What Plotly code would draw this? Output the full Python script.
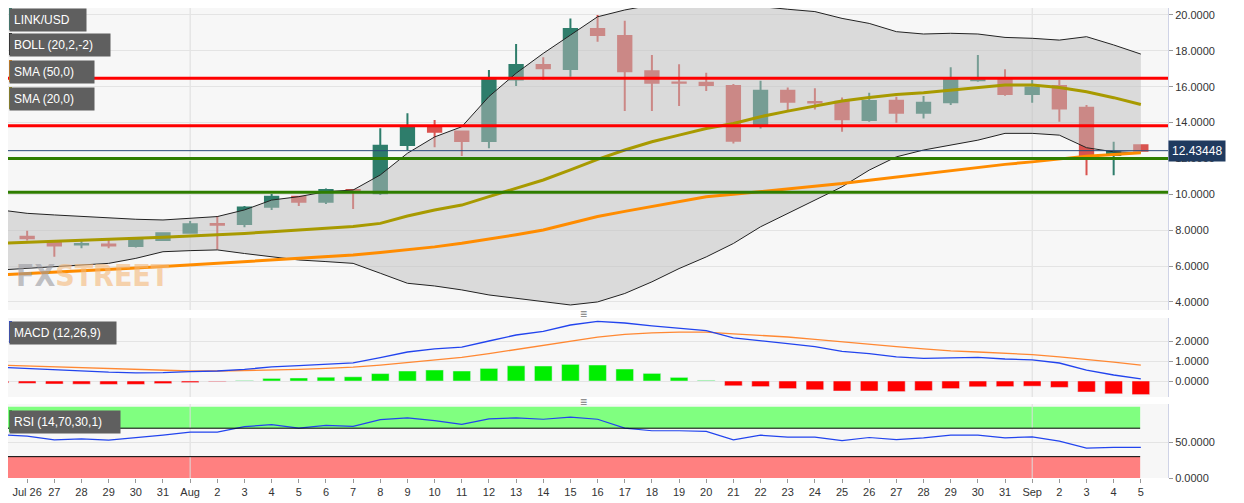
import plotly.graph_objects as go
import pandas as pd

dates = pd.date_range("2019-07-25", "2019-09-05", freq="D")
open_ = [7.45,7.64,7.32,7.20,7.20,7.12,7.45,7.86,8.35,8.35,9.31,9.87,9.59,10.24,10.06,12.75,13.77,13.50,12.97,16.41,17.21,16.99,19.22,
         18.83,16.87,16.24,16.22,16.04,13.92,15.78,15.15,15.16,14.14,15.22,14.55,15.13,16.36,16.37,15.59,16.04,14.83,12.19,12.74]
high = [7.78,7.97,7.35,7.40,7.45,7.50,7.88,8.51,8.79,9.35,10.02,9.91,10.33,10.28,13.68,14.52,14.14,13.53,16.93,18.38,17.64,19.81,20.00,
        19.68,17.77,17.25,16.78,16.15,16.33,15.96,15.91,15.40,15.67,15.44,15.48,17.08,17.77,16.97,16.37,16.37,14.98,12.93,12.78]
low = [7.40,7.42,6.52,6.99,6.99,7.04,7.40,7.83,6.93,8.16,9.13,9.35,9.46,9.18,9.96,12.47,12.62,12.14,12.57,16.04,16.38,16.56,18.51,
       14.64,14.64,14.92,15.76,12.84,13.67,14.70,14.73,13.49,14.05,13.99,14.23,14.98,16.28,15.50,15.10,14.05,11.07,11.07,12.40]
close = [7.73,7.55,7.14,7.23,7.15,7.45,7.83,8.33,8.30,9.27,9.87,9.59,10.24,10.20,12.71,13.77,13.49,12.97,16.41,17.21,17.03,19.22,18.88,
         16.87,16.22,16.22,16.09,12.99,15.78,15.16,15.12,14.18,15.20,14.55,15.11,16.37,16.40,15.59,15.96,14.79,12.19,12.37,12.43448]
boll_up = [9.13,8.94,8.85,8.76,8.66,8.61,8.57,8.66,8.76,9.13,9.68,9.87,10.15,10.24,11.08,12.29,13.20,13.77,15.45,16.75,17.86,18.88,19.90,
           20.28,20.56,20.69,20.74,20.56,20.47,20.32,20.19,19.81,19.53,19.07,18.94,18.98,18.94,18.75,18.70,18.60,18.79,18.33,17.82]
boll_lo = [5.78,5.87,5.97,6.06,6.15,6.43,6.80,6.86,6.90,6.70,6.52,6.34,6.25,6.15,5.60,5.04,4.89,4.67,4.39,4.20,4.00,3.83,4.00,
           4.47,5.12,5.86,6.51,7.26,8.19,8.93,9.67,10.42,11.35,12.09,12.47,12.74,13.02,13.40,13.40,13.30,12.60,12.37,12.32]
sma20 = [7.27,7.32,7.37,7.43,7.48,7.54,7.60,7.68,7.73,7.82,7.92,8.01,8.09,8.20,8.38,8.79,9.13,9.40,9.87,10.33,10.80,11.36,11.95,
         12.47,12.93,13.30,13.67,13.95,14.33,14.64,14.92,15.20,15.40,15.57,15.67,15.81,15.96,16.09,16.09,15.96,15.72,15.39,15.01]
sma50 = [5.50,5.57,5.65,5.73,5.81,5.89,5.97,6.06,6.15,6.24,6.34,6.43,6.52,6.62,6.75,6.90,7.07,7.27,7.50,7.75,8.01,8.38,8.76,
         9.05,9.33,9.60,9.86,10.00,10.14,10.28,10.42,10.60,10.79,10.97,11.16,11.35,11.53,11.67,11.81,11.97,12.13,12.22,12.32]
macd = [0.69,0.63,0.55,0.50,0.44,0.41,0.42,0.47,0.50,0.58,0.71,0.77,0.85,0.91,1.17,1.45,1.61,1.69,2.00,2.30,2.48,2.80,2.98,
        2.90,2.76,2.63,2.52,2.16,2.03,1.87,1.72,1.48,1.37,1.21,1.13,1.17,1.18,1.10,1.06,0.90,0.54,0.30,0.11]
signal = [0.79,0.75,0.71,0.66,0.61,0.57,0.54,0.50,0.50,0.52,0.55,0.58,0.63,0.69,0.79,0.93,1.06,1.18,1.37,1.58,1.80,2.00,2.19,
          2.33,2.41,2.44,2.44,2.36,2.28,2.20,2.08,1.95,1.83,1.72,1.61,1.51,1.45,1.39,1.32,1.21,1.09,0.94,0.79]
hist = [-0.10,-0.12,-0.15,-0.16,-0.17,-0.17,-0.13,-0.08,-0.03,0.02,0.13,0.15,0.19,0.21,0.37,0.50,0.55,0.50,0.63,0.76,0.75,0.83,0.80,
        0.60,0.38,0.18,0.03,-0.24,-0.28,-0.38,-0.44,-0.50,-0.50,-0.53,-0.48,-0.38,-0.29,-0.28,-0.26,-0.32,-0.55,-0.64,-0.68]
rsi = [60.7,58.9,53.6,55.0,53.1,56.4,60.2,64.5,64.5,72.1,75.0,70.2,74.0,72.6,82.1,84.5,80.7,75.5,83.1,84.5,82.6,85.5,82.6,
       70.2,66.4,66.4,65.5,53.6,60.2,57.4,57.4,52.6,56.9,54.0,56.4,60.2,60.2,56.4,57.9,51.7,42.1,43.1,43.1]
resist = [16.47, 13.82]
support = [12.0, 10.11]
last_price = 12.43448

tickvals = list(dates[1:])
ticktext = []
for d in tickvals:
    if d.day == 1:
        ticktext.append(d.strftime("%b"))
    elif d == tickvals[0]:
        ticktext.append("Jul 26")
    else:
        ticktext.append(str(d.day))

# page has an 8px body margin; geometry helpers in screen pixels
PW, PH = 1160.0, 470.0
def px(sx): return (sx - 8) / PW
def py(sy): return 1 - (sy - 8) / PH

fig = go.Figure()
teal, red = "#2e7d6b", "#d9534f"
fig.add_trace(go.Candlestick(x=dates, open=open_, high=high, low=low, close=close,
    increasing=dict(line=dict(color=teal, width=2), fillcolor=teal),
    decreasing=dict(line=dict(color=red, width=2), fillcolor=red),
    whiskerwidth=0, xaxis="x", yaxis="y", showlegend=False, hoverinfo="skip"))
fig.add_trace(go.Scatter(x=dates, y=boll_up, mode="lines", line=dict(color="#222", width=1), xaxis="x", yaxis="y", showlegend=False))
fig.add_trace(go.Scatter(x=dates, y=boll_lo, mode="lines", line=dict(color="#222", width=1), fill="tonexty",
    fillcolor="rgba(190,190,190,0.5)", xaxis="x", yaxis="y", showlegend=False))
fig.add_trace(go.Scatter(x=dates, y=sma50, mode="lines", line=dict(color="#ff8c00", width=3), xaxis="x", yaxis="y", showlegend=False))
fig.add_trace(go.Scatter(x=dates, y=sma20, mode="lines", line=dict(color="#a89a00", width=3), xaxis="x", yaxis="y", showlegend=False))

fig.add_trace(go.Bar(x=dates, y=hist, marker_color=["#00ee00" if h >= 0 else "#ff0000" for h in hist],
    width=0.65*86400000, xaxis="x2", yaxis="y2", showlegend=False))
fig.add_trace(go.Scatter(x=dates, y=signal, mode="lines", line=dict(color="#ff8833", width=1.3), xaxis="x2", yaxis="y2", showlegend=False))
fig.add_trace(go.Scatter(x=dates, y=macd, mode="lines", line=dict(color="#2244ee", width=1.3), xaxis="x2", yaxis="y2", showlegend=False))
fig.add_trace(go.Scatter(x=dates, y=rsi, mode="lines", line=dict(color="#2244ee", width=1.2), xaxis="x3", yaxis="y3", showlegend=False))

x0, x1 = pd.Timestamp("2019-07-25 07:04"), pd.Timestamp("2019-09-06")
grid = "#e4e4e4"
shapes = []
for v, c in [(resist[0], "#ff0000"), (resist[1], "#ff0000"), (support[0], "#2e7d00"), (support[1], "#2e7d00")]:
    shapes.append(dict(type="line", xref="x domain", yref="y", x0=0, x1=1, y0=v, y1=v, line=dict(color=c, width=3)))
shapes.append(dict(type="line", xref="x domain", yref="y", x0=0, x1=1, y0=last_price, y1=last_price, line=dict(color="#2a4a7a", width=1)))
shapes.append(dict(type="rect", xref="x3 domain", yref="y3", x0=0, x1=0.976, y0=70, y1=100, fillcolor="#80ff80",
                   line=dict(width=0), layer="below"))
shapes.append(dict(type="line", xref="x3 domain", yref="y3", x0=0, x1=0.976, y0=70, y1=70, line=dict(color="#000", width=1)))
shapes.append(dict(type="rect", xref="x3 domain", yref="y3", x0=0, x1=0.976, y0=0, y1=30, fillcolor="#ff8080",
                   line=dict(width=0), layer="below"))
shapes.append(dict(type="line", xref="x3 domain", yref="y3", x0=0, x1=0.976, y0=30, y1=30, line=dict(color="#000", width=1)))
for d in ["2019-08-01", "2019-09-01"]:
    for ax in ["", "2", "3"]:
        shapes.append(dict(type="line", xref="x"+ax, yref="y"+ax+" domain", x0=d, x1=d, y0=0, y1=1,
                           line=dict(color="#dddddd", width=1), layer="below"))

ann = []
def label(text, sx, sy, w, color):
    ann.append(dict(text=text, xref="paper", yref="paper", x=px(sx), y=py(sy), xanchor="left", yanchor="top", showarrow=False,
                    font=dict(family="Liberation Sans", size=12, color="white"), bgcolor="#5f5f5f", borderpad=4,
                    width=w, align="left"))
    shapes.append(dict(type="rect", xref="paper", yref="paper", x0=px(sx), x1=px(sx + 3), y0=py(sy + 22), y1=py(sy),
                       fillcolor=color, line=dict(width=0), layer="above"))

fig.update_layout(
    width=1236, height=495, margin=dict(l=0, r=76, t=0, b=25),
    paper_bgcolor="white", plot_bgcolor="#f7f7f7", bargap=0.3,
    xaxis=dict(domain=[0, 1], anchor="y", range=[x0, x1], showticklabels=False, showgrid=False, rangeslider=dict(visible=False)),
    xaxis2=dict(domain=[0, 1], anchor="y2", matches="x", showticklabels=False, showgrid=False),
    xaxis3=dict(domain=[0, 1], anchor="y3", matches="x", tickvals=tickvals, ticktext=ticktext, showgrid=False,
                ticks="outside", ticklen=4, tickcolor="#999", tickfont=dict(family="Liberation Sans", size=11, color="#333")),
    yaxis=dict(domain=[py(310), 1], range=[3.55, 20.39], side="right", tickvals=[4,6,8,10,12,14,16,18,20],
               tickformat=".4f", gridcolor=grid, ticks="outside", ticklen=4, tickcolor="#999", showline=True, linecolor="#cfd3e6",
               tickfont=dict(family="Liberation Sans", size=11, color="#333"), zeroline=False),
    yaxis2=dict(domain=[py(397), py(318)], range=[-0.8, 3.15], side="right", tickvals=[0, 1, 2], tickformat=".4f",
                gridcolor=grid, ticks="outside", ticklen=4, tickcolor="#999", showline=True, linecolor="#cfd3e6",
                tickfont=dict(family="Liberation Sans", size=11, color="#333"), zeroline=False),
    yaxis3=dict(domain=[0, py(404)], range=[0, 104], side="right", tickvals=[0, 50], tickformat=".4f",
                gridcolor=grid, ticks="outside", ticklen=4, tickcolor="#999", showline=True, linecolor="#cfd3e6",
                tickfont=dict(family="Liberation Sans", size=11, color="#333"), zeroline=False),
)

label("LINK/USD", 9, 8, 68, "#2e8b7a")
label("BOLL (20,2,-2)", 9, 33, 92, "#111111")
label("SMA (50,0)", 9, 60, 76, "#ff8c00")
label("SMA (20,0)", 9, 87, 76, "#a89a00")
label("MACD (12,26,9)", 9, 321, 98, "#2244ee")
label("RSI (14,70,30,1)", 9, 410, 102, "#22cc22")

ann.append(dict(text="12.43448", xref="paper", yref="y", x=1.0, y=last_price, xanchor="left", yanchor="middle", showarrow=False,
                font=dict(family="Liberation Sans", size=12, color="white"), bgcolor="#1f3a5f", borderpad=3))
ann.append(dict(text="<b><span style='color:#9a9aa0'>FX</span><span style='color:#f5b97a'>STREET</span></b>",
                xref="paper", yref="paper", x=px(14), y=py(275), xanchor="left", yanchor="middle", showarrow=False,
                font=dict(family="DejaVu Sans Condensed", size=30), opacity=0.6))
for yy in [313, 401]:
    ann.append(dict(text="≡", xref="paper", yref="paper", x=px(583), y=py(yy), showarrow=False,
                    font=dict(size=12, color="#777"), yanchor="middle"))
fig.update_layout(annotations=ann, shapes=shapes)
fig.write_html("out.html")
